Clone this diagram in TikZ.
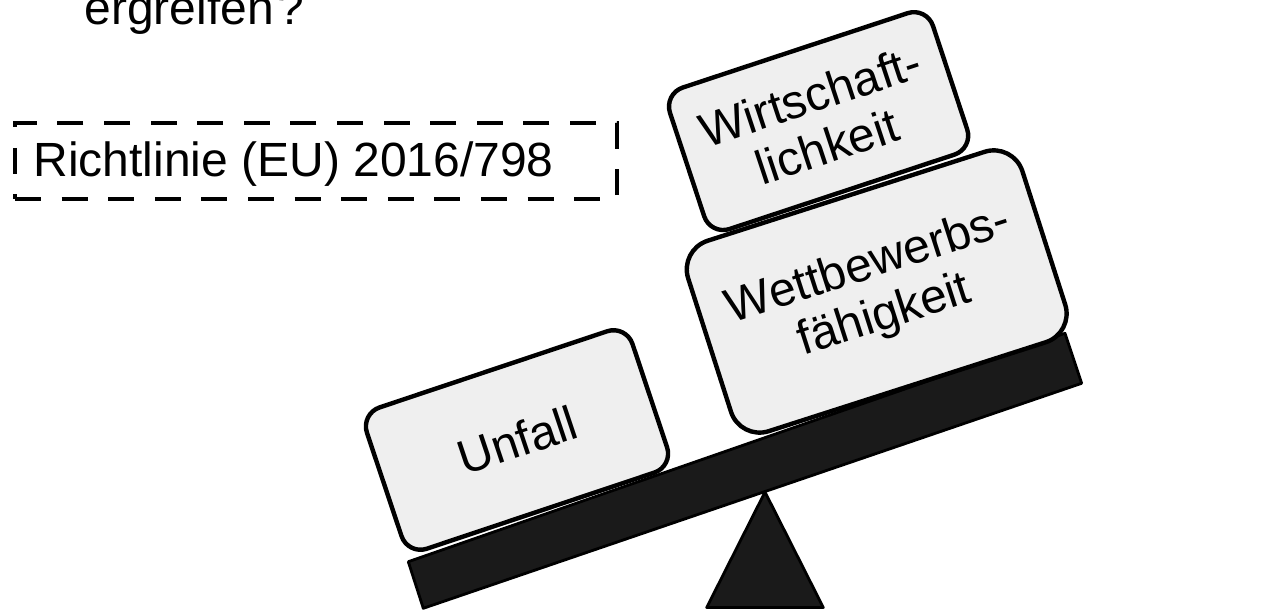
\documentclass[tikz,border=0pt]{standalone}
\usepackage{fontspec}
\setmainfont{Liberation Sans}
\definecolor{boxfill}{HTML}{EFEFEF}
\definecolor{plankfill}{HTML}{1A1A1A}
\begin{document}
\begin{tikzpicture}[x=0.5pt,y=-0.5pt,
  txt/.style={font=\fontsize{24}{26.5}\selectfont, align=center, inner sep=0pt, text=black},
  weight/.style={draw=black, line width=2.2pt, fill=boxfill, rounded corners=10pt, txt},
  dark/.style={draw=black, line width=1.4pt, fill=plankfill, line join=round},
  dashbox/.style={draw=black, line width=2.4pt, dash pattern=on 13pt off 10.3pt, inner sep=0pt}
]
\useasboundingbox (0,0) rectangle (1266,610);
\clip (0,0) rectangle (1266,610);

% question fragment
\node[txt, anchor=base west] (q) at (84,25) {ergreifen\kern2pt?};

% dashed reference box
\node[dashbox, minimum width=301pt, minimum height=38pt] (rlbox) at (316,161) {};
\node[txt, anchor=base west] (rl) at (33,176.7) {Richtlinie (EU) 2016/798};

% seesaw plank and pivot
\path[dark] (408.3,561.7) -- (1065,333.3) -- (1081.7,383.3) -- (423.3,608.3) -- cycle;
\path[dark] (765,492) -- (823.3,607.5) -- (706.7,607.5) -- cycle;

% weights
\node[weight, rotate=18.5, minimum width=140pt, minimum height=74.5pt] (unfall) at (517,440) {Unfall};
\node[weight, rotate=18.3, minimum width=138.5pt, minimum height=74.5pt] (wirt) at (818.6,121.1) {Wirtschaft-\\lichkeit};
\node[weight, rotate=17.8, rounded corners=15pt, minimum width=175.5pt, minimum height=100pt] (wett) at (876.7,291.5) {Wettbewerbs-\\fähigkeit};
\end{tikzpicture}
\end{document}
